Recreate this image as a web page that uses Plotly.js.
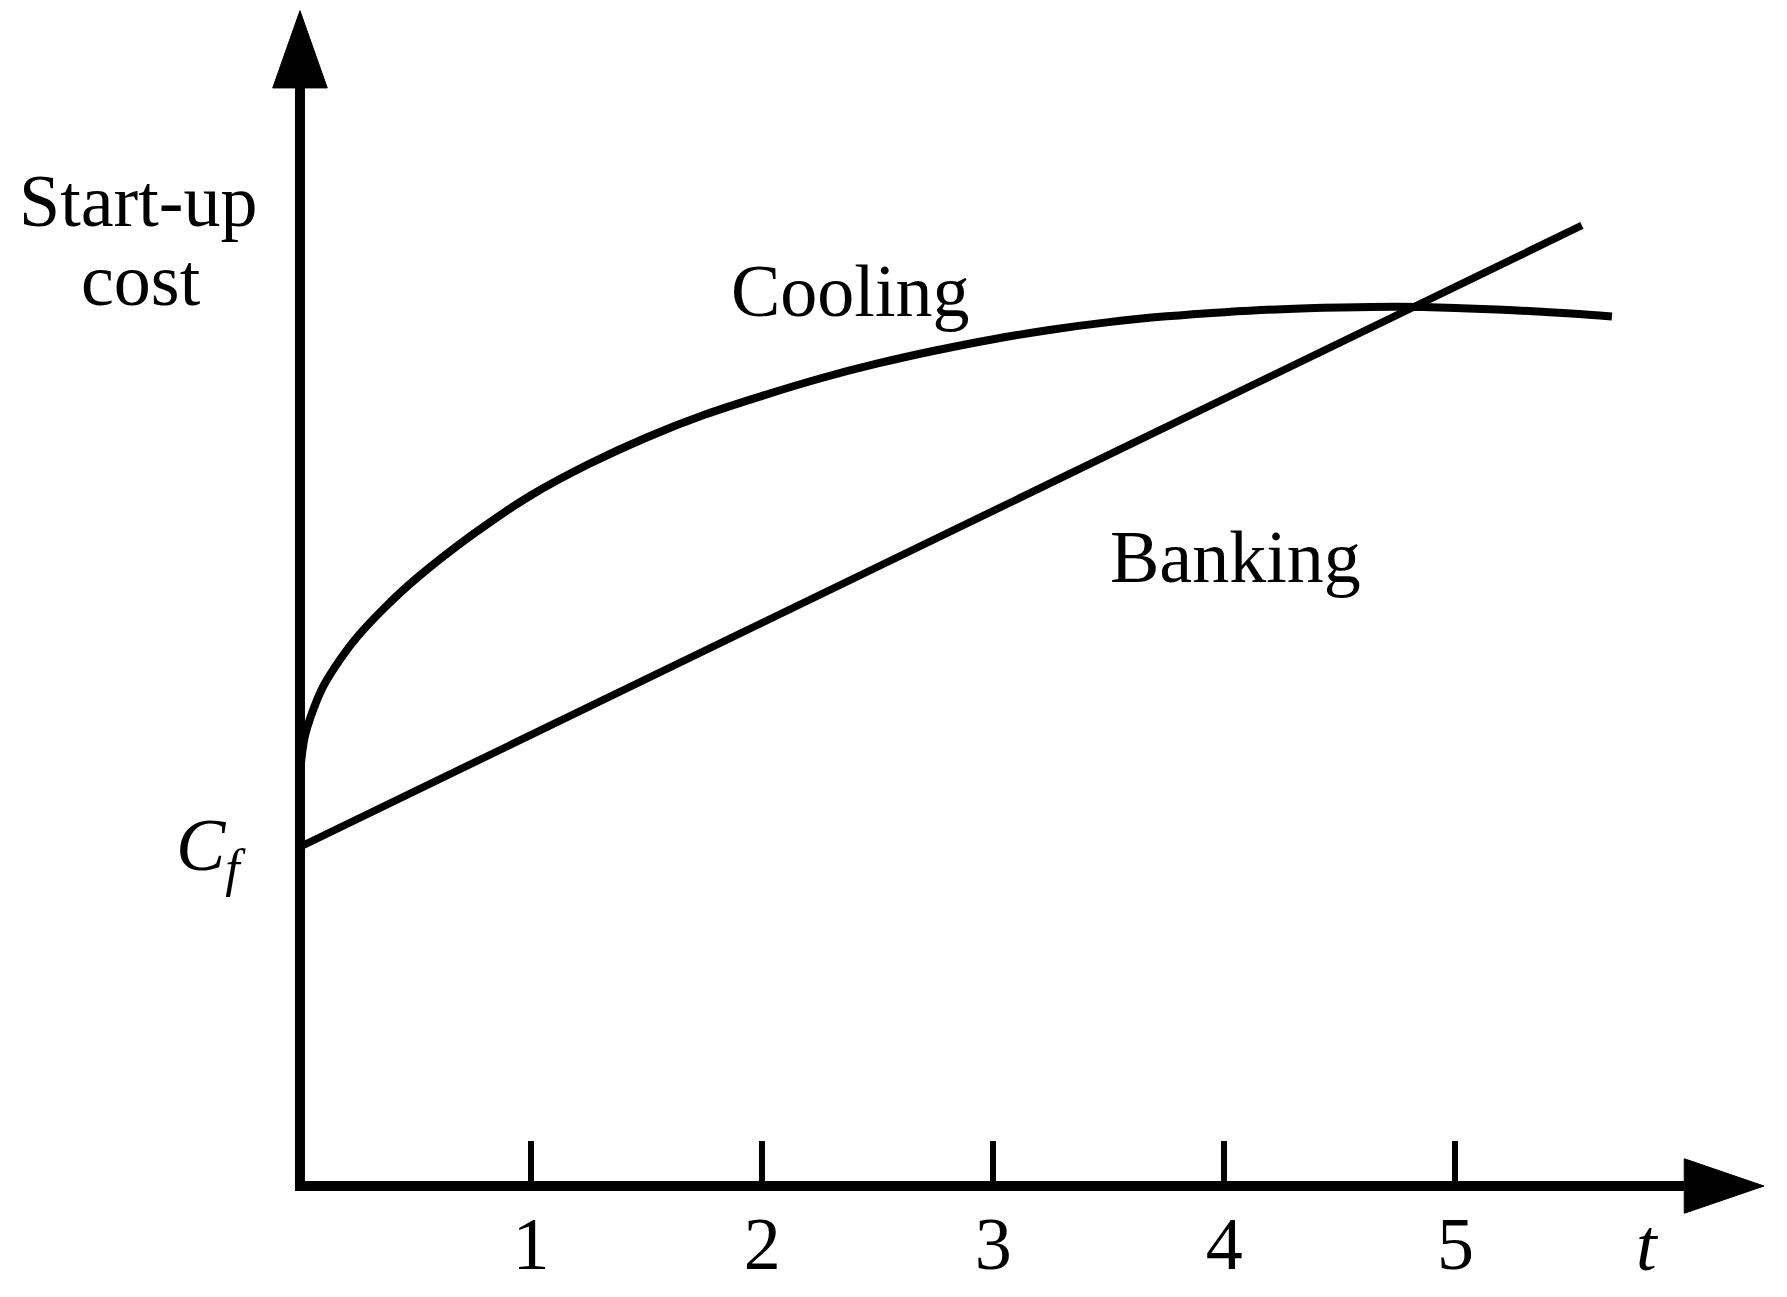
<!DOCTYPE html>
<html>
<head>
<meta charset="utf-8">
<script src="https://cdn.plot.ly/plotly-3.0.1.min.js"></script>
<style>
  html, body { margin: 0; padding: 0; background: #fff; }
  #chart { width: 1787px; height: 1297px; }
</style>
</head>
<body>
<div id="chart"></div>
<script>
// Cooling start-up cost (same units on both axes)
const coolingT = [0, 0.02, 0.05, 0.1, 0.175, 0.25, 0.375, 0.5, 0.75, 1.0, 1.25, 1.5, 1.75,
    2.0, 2.25, 2.5, 2.75, 3.0, 3.25, 3.5, 3.75, 4.0, 4.25, 4.5, 4.75, 5.0, 5.25, 5.5, 5.677];
const coolingCost = [1.787, 1.94, 2.04, 2.16, 2.28, 2.378, 2.51, 2.625, 2.82, 2.988, 3.123, 3.238,
    3.336, 3.418, 3.493, 3.558, 3.614, 3.663, 3.704, 3.737, 3.762, 3.780, 3.793, 3.800, 3.803,
    3.798, 3.788, 3.774, 3.761];

// Banking is a straight line starting at Cf
const bankingT = [0, 5.547];
const bankingCost = [1.467, 4.155];

const tickVals = [1, 2, 3, 4, 5];
const tickText = ['1', '2', '3', '4', '5'];

const FONT = 'Liberation Serif, Times New Roman, serif';
const PX = 231.1;           // pixels per unit on both axes
const xMin = -0.16, xMax = 6.4;
const yMin = -0.16, yMax = 5.1;

// axis extents and arrow heads (units)
const xAxisEnd = 5.99, xArrowTip = 6.335, arrowHalf = 0.118;
const yAxisEnd = 4.75, yArrowTip = 5.084;
const half = 5 / PX;        // half the axis stroke, so the corner is square

const left = 300 + xMin * PX;
const bottom = 1297 - 1186 + yMin * PX;
const plotW = (xMax - xMin) * PX;
const plotH = (yMax - yMin) * PX;

const traces = [
    {
        x: coolingT, y: coolingCost, mode: 'lines', name: 'Cooling',
        // simplify off, otherwise plotly drops points and the spline gets corners
        line: { color: '#000', width: 8, shape: 'spline', smoothing: 1, simplify: false },
        hoverinfo: 'skip'
    },
    {
        x: bankingT, y: bankingCost, mode: 'lines', name: 'Banking',
        line: { color: '#000', width: 7.5 },
        hoverinfo: 'skip'
    }
];

const shapes = [
    // axes
    { type: 'line', x0: -half, y0: 0, x1: xAxisEnd, y1: 0, line: { color: '#000', width: 10 } },
    { type: 'line', x0: 0, y0: -half, x1: 0, y1: yAxisEnd, line: { color: '#000', width: 10 } },
    // arrow heads
    {
        type: 'path', fillcolor: '#000', line: { color: '#000', width: 1 },
        path: `M ${xAxisEnd},${arrowHalf} L ${xArrowTip},0 L ${xAxisEnd},${-arrowHalf} Z`
    },
    {
        type: 'path', fillcolor: '#000', line: { color: '#000', width: 1 },
        path: `M ${-arrowHalf},${yAxisEnd} L 0,${yArrowTip} L ${arrowHalf},${yAxisEnd} Z`
    }
];

// labels are given in data units and placed in paper space so they may sit outside the axes
function label(text, x, y) {
    return {
        text: text,
        x: (x - xMin) / (xMax - xMin), y: (y - yMin) / (yMax - yMin),
        xref: 'paper', yref: 'paper', showarrow: false,
        xanchor: 'center', yanchor: 'middle',
        font: { family: FONT, size: 74, color: '#000' }
    };
}

const annotations = [
    label('Start-up', -0.70, 4.26),
    label('cost', -0.69, 3.92),
    label('Cooling', 2.38, 3.87),
    label('Banking', 4.05, 2.72),
    label('<i>C</i><sub><i>f</i></sub>', -0.385, 1.45),
    label('<i>t</i>', 5.83, -0.255)
];

const layout = {
    width: 1787,
    height: 1297,
    margin: { l: left, r: 1787 - left - plotW, t: 1297 - bottom - plotH, b: bottom, pad: 0 },
    paper_bgcolor: '#fff',
    plot_bgcolor: '#fff',
    showlegend: false,
    xaxis: {
        range: [xMin, xMax],
        anchor: 'free',
        position: (0 - yMin) / (yMax - yMin),
        tickvals: tickVals,
        ticktext: tickText,
        ticks: 'inside',
        ticklen: 45,
        tickwidth: 6,
        tickcolor: '#000',
        tickfont: { family: FONT, size: 74, color: '#000' },
        ticklabelstandoff: 8,
        showgrid: false,
        zeroline: false,
        showline: false,
        fixedrange: true
    },
    yaxis: {
        range: [yMin, yMax],
        visible: false,
        showgrid: false,
        zeroline: false,
        fixedrange: true
    },
    shapes: shapes,
    annotations: annotations
};

Plotly.newPlot('chart', traces, layout, { displayModeBar: false, staticPlot: true });
</script>
</body>
</html>
